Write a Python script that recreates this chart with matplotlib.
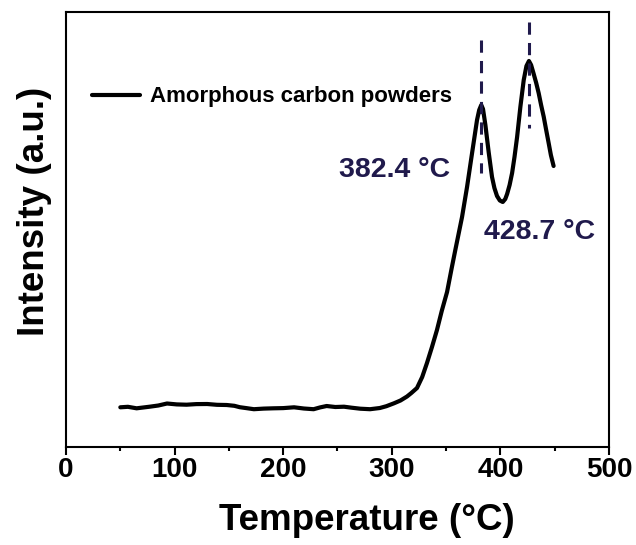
import numpy as np
import matplotlib
matplotlib.use('Agg')
import matplotlib.pyplot as plt
from matplotlib.ticker import MultipleLocator

plt.rcParams['font.family'] = ['Liberation Sans', 'DejaVu Sans']
plt.rcParams['font.weight'] = 'bold'

# curve (temperature in C, intensity in a.u.)
temp = [50, 57, 65, 71, 77, 85, 93, 102, 111, 120, 130, 139, 148, 155, 160, 166,
        173, 182, 191, 200, 210, 219, 228, 234, 240, 248, 256, 263, 271, 280,
        289, 295, 302, 308, 314, 318, 323.2, 328, 332.4, 337, 341.6, 346, 350.9,
        355, 358.5, 364.7, 369.3, 373.9, 378.5, 380.5, 382.4, 384, 386.2, 389.2,
        392.3, 394.5, 396.9, 399.5, 402.2, 404.5, 406.2, 408.5, 410.8, 413, 415.4,
        418.4, 421.5, 424, 426.3, 428.3, 430.7, 433, 435.3, 437.5, 439.9, 442,
        444.5, 446.5, 449]
intensity = [39.7, 40.2, 38.7, 39.5, 40.3, 41.5, 43.5, 42.6, 42.3, 42.9, 43, 42.2,
             42, 41.2, 39.8, 38.9, 37.8, 38.4, 38.7, 38.9, 39.7, 38.5, 37.8, 39.6,
             41, 40, 40.3, 39.3, 38.3, 37.8, 39, 40.8, 43.7, 46.5, 50.5, 54, 59,
             70, 84, 100, 117, 136, 155, 178, 197, 230, 260, 293.7, 327, 337, 342,
             338, 322, 295, 270, 259, 251, 246.5, 245, 248, 253, 262, 274, 290, 310,
             340, 367, 381, 386, 382, 373, 364, 353.7, 342, 330.3, 318, 303.7, 292,
             281]

peak_marks = [382.4, 426.5]
peak_lines = [(274, 407), (319, 425)]
peak_labels = ['382.4 \u00b0C', '428.7 \u00b0C']
label_pos = [(251, 277), (385, 215)]

navy = '#201a4c'

fig = plt.figure(figsize=(6.36, 5.45), dpi=100)
ax = fig.add_axes([0.1038, 0.1798, 0.8537, 0.7982])

ax.plot(temp, intensity, color='black', lw=3, label='Amorphous carbon powders',
        solid_joinstyle='round', solid_capstyle='round')

for p, (y0, y1) in zip(peak_marks, peak_lines):
    ax.plot([p, p], [y1, y0], color=navy, lw=2.2, dashes=(4, 2.7))

for txt, (x, y) in zip(peak_labels, label_pos):
    ax.text(x, y, txt, color=navy, fontsize=20.5, fontweight='bold', va='center', ha='left')

ax.set_xlim(0, 500)
ax.set_ylim(0, 435)
ax.set_yticks([])
ax.xaxis.set_major_locator(MultipleLocator(100))
ax.xaxis.set_minor_locator(MultipleLocator(50))
ax.tick_params(axis='x', which='major', length=5.5, width=1.5, labelsize=20, pad=2, direction='out')
ax.tick_params(axis='x', which='minor', length=3, width=1.5, direction='out')
for lab in ax.get_xticklabels():
    lab.set_fontweight('bold')
for s in ax.spines.values():
    s.set_linewidth(1.5)

ax.set_xlabel('Temperature (\u00b0C)', fontsize=26.5, fontweight='bold', labelpad=14)
ax.set_ylabel('Intensity (a.u.)', fontsize=26.5, fontweight='bold', labelpad=10)
ax.xaxis.label.set_x(0.554)
ax.yaxis.label.set_y(0.5425)

ax.legend(loc='center left', bbox_to_anchor=(0.048, 0.805), frameon=False, borderpad=0,
          borderaxespad=0, prop={'size': 16, 'weight': 'bold'}, handlelength=2.16,
          handletextpad=0.45)

fig.savefig('out.png', dpi=100)
